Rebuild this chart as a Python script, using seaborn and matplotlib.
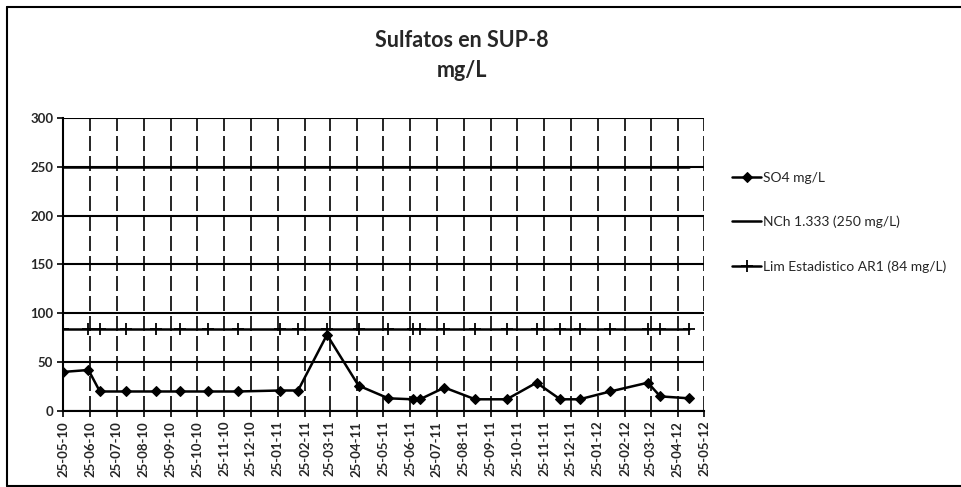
import seaborn as sns
import matplotlib.pyplot as plt
import matplotlib.dates as mdates
import pandas as pd

# Datos
fechas = ['2010-05-25', '2010-06-23', '2010-07-06', '2010-08-05', '2010-09-08',
          '2010-10-05', '2010-11-06', '2010-12-10', '2011-01-27', '2011-02-17',
          '2011-03-22', '2011-04-27', '2011-05-31', '2011-06-28', '2011-07-06',
          '2011-08-03', '2011-09-07', '2011-10-13', '2011-11-16', '2011-12-13',
          '2012-01-04', '2012-02-08', '2012-03-22', '2012-04-05', '2012-05-08']
so4 = [40, 42, 20, 20, 20, 20, 20, 20, 21, 21, 78, 26, 13, 12, 12,
       24, 12, 12, 29, 12, 12, 20, 29, 15, 13]
nch = [250] * len(fechas)
lim = [84] * len(fechas)

etiquetas = ['SO4 mg/L', 'NCh 1.333 (250 mg/L)', 'Lim Estadistico AR1 (84 mg/L)']
y_ticks = [0, 50, 100, 150, 200, 250, 300]

df = pd.DataFrame({
    'fecha': pd.to_datetime(fechas),
    'so4': so4,
    'nch': nch,
    'lim': lim,
})

sns.set_style('white')
plt.rcParams['font.family'] = ['Lato', 'DejaVu Sans']

fig = plt.figure(figsize=(9.61, 4.87), dpi=100)
ax = fig.add_axes([0.0656, 0.156, 0.667, 0.602])

sns.lineplot(data=df, x='fecha', y='so4', ax=ax, color='black', lw=1.8,
             marker='D', markersize=5, markeredgecolor='black', label=etiquetas[0])
sns.lineplot(data=df, x='fecha', y='nch', ax=ax, color='black', lw=1.8,
             label=etiquetas[1])
sns.lineplot(data=df, x='fecha', y='lim', ax=ax, color='black', lw=1.8,
             marker='+', markersize=9, markeredgewidth=1.3,
             markeredgecolor='black', label=etiquetas[2])

ax.set_xlim(pd.Timestamp('2010-05-25'), pd.Timestamp('2012-05-25'))
ax.set_ylim(0, 300)
ax.set_yticks(y_ticks)
ax.xaxis.set_major_locator(mdates.MonthLocator(bymonthday=25))
ax.xaxis.set_major_formatter(mdates.DateFormatter('%d-%m-%y'))
plt.setp(ax.get_xticklabels(), rotation=90, fontsize=9.5, fontweight='bold')
plt.setp(ax.get_yticklabels(), fontsize=9.5, fontweight='bold')
ax.tick_params(axis='both', length=4, width=1.2, color='black', direction='out',
               bottom=True, left=True, pad=3)

ax.yaxis.grid(True, color='black', lw=1.5)
ax.xaxis.grid(True, color='black', lw=1.2, ls=(0, (9, 3)))
ax.set_axisbelow(True)
for s in ax.spines.values():
    s.set_visible(False)
for lado in ['left', 'bottom']:
    ax.spines[lado].set_visible(True)
    ax.spines[lado].set_color('black')
    ax.spines[lado].set_linewidth(1.5)

ax.set_xlabel('')
ax.set_ylabel('')

fig.text(0.481, 0.917, 'Sulfatos en SUP-8', ha='center', va='center',
         fontsize=15.5, fontweight='bold')
fig.text(0.481, 0.855, 'mg/L', ha='center', va='center',
         fontsize=15.5, fontweight='bold')

ax.legend(loc='upper left', bbox_to_anchor=(1.035, 0.835), frameon=False,
          prop={'size': 10}, labelspacing=2.3, handlelength=2.1,
          handletextpad=0.15, borderaxespad=0)

# marco exterior
fig.add_artist(plt.Line2D([0.007, 0.007], [0.003, 0.985], color='black', lw=1.5,
                          transform=fig.transFigure))
fig.add_artist(plt.Line2D([0.007, 1.0], [0.985, 0.985], color='black', lw=1.5,
                          transform=fig.transFigure))
fig.add_artist(plt.Line2D([0.007, 1.0], [0.003, 0.003], color='black', lw=1.5,
                          transform=fig.transFigure))

fig.savefig('out.png', dpi=100)
